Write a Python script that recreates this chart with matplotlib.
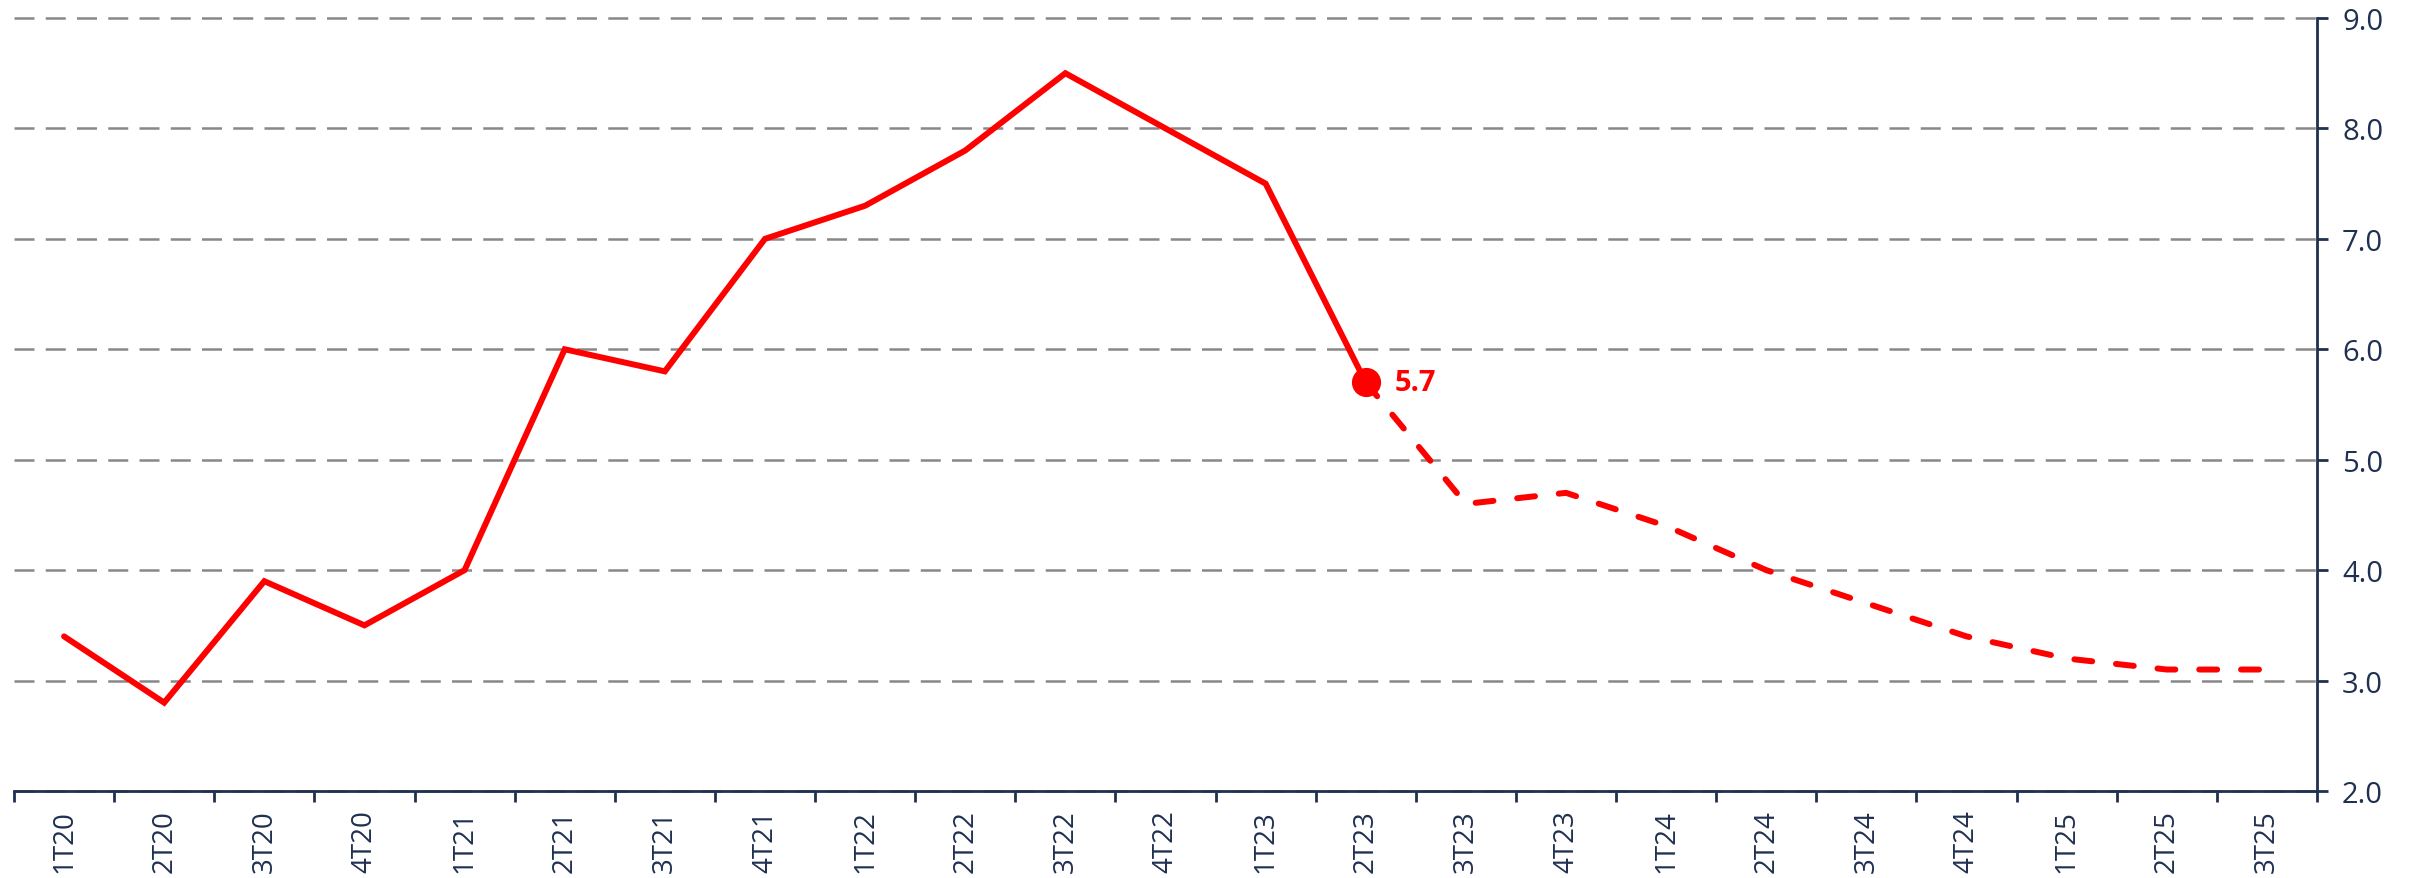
import numpy as np
import matplotlib
matplotlib.use("Agg")
import matplotlib.pyplot as plt

# data
quarters = ["1T20", "2T20", "3T20", "4T20", "1T21", "2T21", "3T21", "4T21",
            "1T22", "2T22", "3T22", "4T22", "1T23", "2T23", "3T23", "4T23",
            "1T24", "2T24", "3T24", "4T24", "1T25", "2T25", "3T25"]
values = [3.4, 2.8, 3.9, 3.5, 4.0, 6.0, 5.8, 7.0,
          7.3, 7.8, 8.5, 8.0, 7.5, 5.7, 4.6, 4.7,
          4.4, 4.0, 3.7, 3.4, 3.2, 3.1, 3.1]
last_actual = "2T23"
y_ticks = [2.0, 3.0, 4.0, 5.0, 6.0, 7.0, 8.0, 9.0]

navy = "#1F3050"
red = "#FF0000"

plt.rcParams['font.family'] = ['Open Sans', 'DejaVu Sans']

fig = plt.figure(figsize=(24.09, 8.79), dpi=100)
W, H = 2409, 879
ax = fig.add_axes([14 / W, 1 - 792 / H, (2317 - 14) / W, (792 - 19) / H])

x = np.arange(len(quarters))
k = quarters.index(last_actual)

# réel (trait plein) et prévision (pointillés)
ax.plot(x[:k + 1], values[:k + 1], color=red, lw=4.3, solid_capstyle='round',
        solid_joinstyle='miter', zorder=3)
ax.plot(x[k:], values[k:], color=red, lw=4.3, linestyle=(0, (3.0, 4.0)),
        dash_capstyle='round', zorder=3)
ax.plot([x[k]], [values[k]], 'o', color=red, ms=20, zorder=4)
ax.annotate(f"{values[k]:.1f}", (x[k], values[k]), xytext=(21, 0),
            textcoords='offset points', color=red, fontsize=21,
            fontweight='bold', va='center', ha='left')

# axes
ax.set_xlim(-0.5, len(quarters) - 0.5)
ax.set_ylim(2.0, 9.0)
ax.yaxis.tick_right()
ax.set_yticks(y_ticks)
ax.set_yticklabels([f"{v:.1f}" for v in y_ticks])
ax.set_xticks(x)
ax.set_xticklabels(quarters, rotation=90)
ax.set_xticks(np.arange(-0.5, len(quarters)), minor=True)

ax.tick_params(axis='x', which='major', length=0, pad=13, labelsize=20,
               labelcolor=navy)
ax.tick_params(axis='x', which='minor', length=8, width=2, color=navy,
               direction='out')
ax.tick_params(axis='y', which='major', length=8, width=2, color=navy,
               pad=10, labelsize=21, labelcolor=navy)

for s in ['top', 'left']:
    ax.spines[s].set_visible(False)
for s in ['bottom', 'right']:
    ax.spines[s].set_color(navy)
    ax.spines[s].set_linewidth(2)

ax.yaxis.grid(True, color='#888888', lw=1.8, linestyle=(0, (8, 4.5)))
for gl in ax.yaxis.get_gridlines():
    gl.set_clip_on(False)
ax.set_axisbelow(True)

fig.savefig("out.png", dpi=100)
